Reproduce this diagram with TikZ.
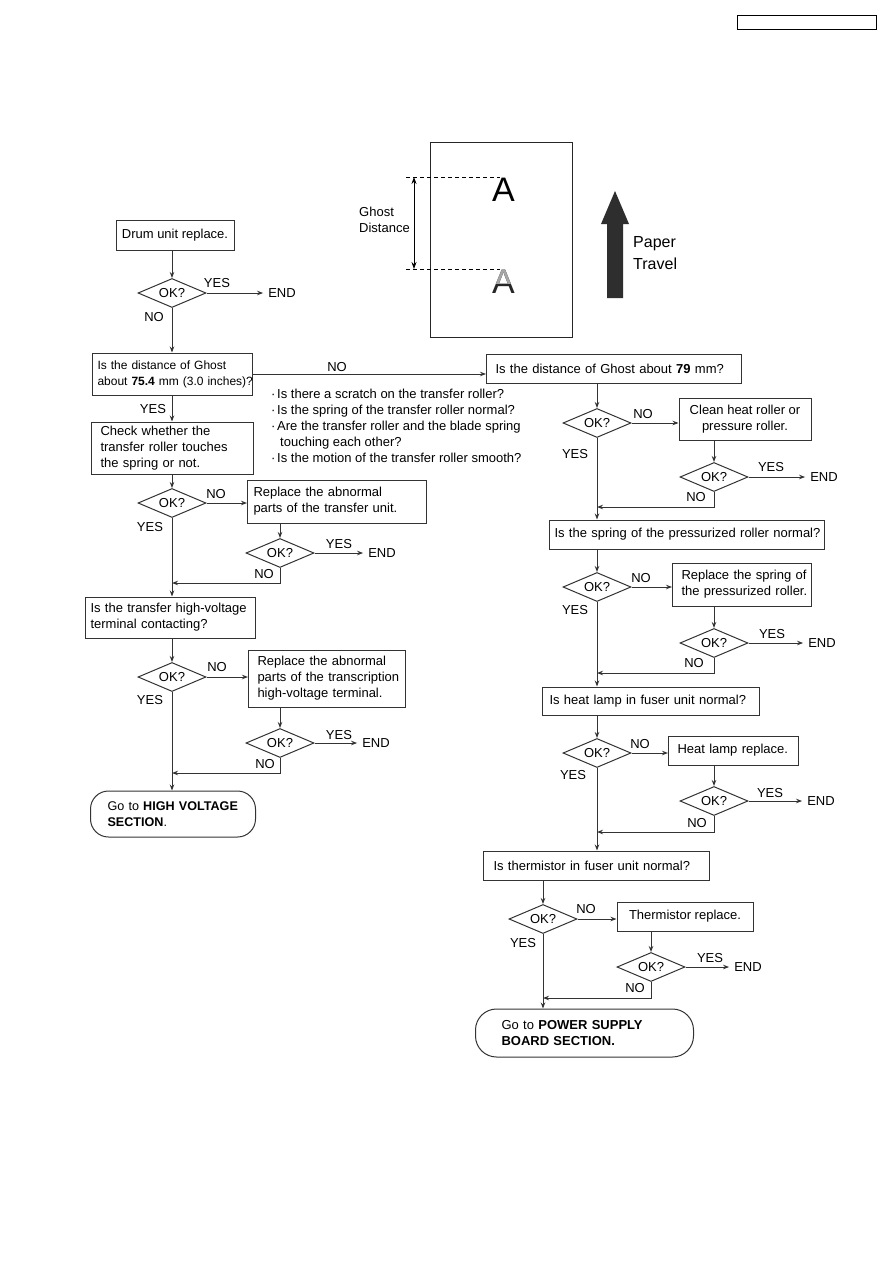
\documentclass[tikz,border=0pt]{standalone}
\usepackage{fontspec}
\setmainfont{Liberation Sans}
\usetikzlibrary{shapes.geometric,arrows.meta}
\newcommand{\fs}{\fontsize{13}{16}\selectfont}
\newcommand{\rl}[1]{\mbox{#1}}
\begin{document}
\begin{tikzpicture}[x=1pt,y=-1pt,
  every node/.style={font=\fs},
  box/.style={draw=black!80, line width=1pt, rectangle, inner ysep=2pt, align=left, anchor=west},
  cbox/.style={draw=black!80, line width=1pt, rectangle, inner xsep=5pt, inner ysep=2pt, align=center},
  dia/.style={draw=black!80, line width=1pt, diamond, aspect=2.35, minimum width=68pt, minimum height=29pt, inner sep=0pt},
  term/.style={draw=black!80, line width=1pt, rectangle, align=left, anchor=west},
  lab/.style={inner sep=0pt},
  endn/.style={inner xsep=5pt, inner ysep=0pt},
  arr/.style={draw=black!80, line width=1pt, -{Stealth[length=6pt,width=4.5pt]}}]
\useasboundingbox (0,0) rectangle (893,1263);
\fill[white] (0,0) rectangle (893,1263);

% top right empty box
\node[draw, line width=1pt, minimum width=139pt, minimum height=14pt, inner sep=0pt] (hdr) at (806.5,23) {};

% ---------- ghost figure ----------
\node[draw=black!85, line width=1pt, minimum width=142pt, minimum height=195pt, inner sep=0pt] (paper) at (501,239.5) {};
\coordinate (gt1) at (406,177); \coordinate (gt2) at (500,177);
\coordinate (gb1) at (406,269); \coordinate (gb2) at (500,269);
\coordinate (da1) at (414,177); \coordinate (da2) at (414,269);
\draw[dash pattern=on 4pt off 3pt, line width=0.9pt] (gt1) -- (gt2);
\draw[dash pattern=on 4pt off 3pt, line width=0.9pt] (gb1) -- (gb2);
\draw[line width=0.9pt, {Stealth[length=7pt,width=5pt]}-{Stealth[length=7pt,width=5pt]}] (da1) -- (da2);
\node[lab, anchor=west, align=left] (gdist) at (359,220) {Ghost\\Distance};
\node[lab, font=\fontsize{34}{34}\selectfont] (A1) at (503.5,190) {A};
\node[lab, font=\fontsize{34}{34}\selectfont, text=black!85] (A2) at (503.5,282) {A};
\begin{scope}
  \clip (485,262) rectangle (525,283);
  \node[lab, font=\fontsize{34}{34}\selectfont, text=black!35] (A2g) at (503.5,282) {A};
\end{scope}
\fill[black!82] (615,191) -- (629,224) -- (623,224) -- (623,298) -- (607,298) -- (607,224) -- (601,224) -- cycle;
\node[lab, anchor=west, align=left, font=\fontsize{16}{22}\selectfont] (travel) at (633,253) {Paper\\Travel};

% ---------- left column ----------
\node[cbox, minimum width=118pt, minimum height=30pt] (drum) at (175,235) {Drum unit replace.};
\node[dia] (L1) at (172,293) {OK?};
\node[endn] (E1) at (282,293) {END};
\node[lab] (y1) at (217,283) {YES};
\node[lab] (n1) at (154,317) {NO};

\node[box, minimum width=160pt, minimum height=42pt, inner xsep=5pt, text width=150pt, font=\fontsize{12}{16}\selectfont] (g75) at (92,374) {\rl{Is the distance of Ghost}\\\rl{about \textbf{75.4} mm (3.0 inches)?}};
\node[lab] (n0) at (337,367) {NO};
\node[lab] (y0) at (153,409) {YES};

\node[lab, anchor=north west, align=left] (bul) at (271,389) {%
\makebox[6pt][l]{·}Is there a scratch on the transfer roller?\\
\makebox[6pt][l]{·}Is the spring of the transfer roller normal?\\
\makebox[6pt][l]{·}Are the transfer roller and the blade spring\\
\makebox[9pt][l]{}touching each other?\\
\makebox[6pt][l]{·}Is the motion of the transfer roller smooth?};

\node[box, minimum width=162pt, minimum height=52pt, inner xsep=9pt, text width=144pt] (check) at (91,448) {\rl{Check whether the}\\\rl{transfer roller touches}\\\rl{the spring or not.}};
\node[dia] (L2) at (172,503) {OK?};
\node[lab] (n2) at (216,494) {NO};
\node[lab] (y2) at (150,527) {YES};
\node[box, minimum width=179pt, minimum height=43pt, inner xsep=6pt, text width=167pt] (rep1) at (247,501.5) {\rl{Replace the abnormal}\\\rl{parts of the transfer unit.}};
\node[dia] (L2b) at (280,553) {OK?};
\node[lab] (y2b) at (339,544) {YES};
\node[endn] (E2) at (382,553) {END};
\node[lab] (n2b) at (264,574) {NO};
\coordinate (J2) at (172,583);

\node[box, minimum width=170pt, minimum height=41pt, inner xsep=5pt, text width=160pt] (hv) at (85,617.5) {\rl{Is the transfer high-voltage}\\\rl{terminal contacting?}};
\node[dia] (L3) at (172,677) {OK?};
\node[lab] (n3) at (217,667) {NO};
\node[lab] (y3) at (150,700) {YES};
\node[box, minimum width=157pt, minimum height=57pt, inner xsep=9pt, text width=139pt] (rep2) at (248,678.5) {\rl{Replace the abnormal}\\\rl{parts of the transcription}\\\rl{high-voltage terminal.}};
\node[dia] (L3b) at (280,743) {OK?};
\node[lab] (y3b) at (339,735) {YES};
\node[endn] (E3) at (376,743) {END};
\node[lab] (n3b) at (265,764) {NO};
\coordinate (J3) at (172,773);

\node[term, rounded corners=18pt, minimum width=165pt, minimum height=46pt, inner xsep=17pt, text width=131pt, font=\fontsize{12.6}{16}\selectfont] (hvterm) at (90,814) {\rl{Go to \textbf{HIGH VOLTAGE}}\\\rl{\textbf{SECTION}.}};

% ---------- right column ----------
\node[box, minimum width=255pt, minimum height=29pt, inner xsep=9pt, text width=237pt] (g79) at (486,368.5) {\rl{Is the distance of Ghost about \textbf{79} mm?}};
\node[dia] (R1) at (597,423) {OK?};
\node[lab] (nr1) at (643,414) {NO};
\node[lab] (yr1) at (575,454) {YES};
\node[cbox, minimum width=132pt, minimum height=42pt] (clean) at (745,419) {Clean heat roller or\\pressure roller.};
\node[dia] (R1b) at (714,477) {OK?};
\node[lab] (yr1b) at (771,467) {YES};
\node[endn] (ER1) at (824,477) {END};
\node[lab] (nr1b) at (696,497) {NO};
\coordinate (JR1) at (597,507);

\node[box, minimum width=275pt, minimum height=29pt, inner xsep=5pt, text width=265pt] (spring) at (549,534.5) {\rl{Is the spring of the pressurized roller normal?}};
\node[dia] (R2) at (597,587) {OK?};
\node[lab] (nr2) at (641,578) {NO};
\node[lab] (yr2) at (575,610) {YES};
\node[box, minimum width=139pt, minimum height=43pt, inner xsep=9pt, text width=121pt] (rep3) at (672,584.5) {\rl{Replace the spring of}\\\rl{the pressurized roller.}};
\node[dia] (R2b) at (714,643) {OK?};
\node[lab] (yr2b) at (772,634) {YES};
\node[endn] (ER2) at (822,643) {END};
\node[lab] (nr2b) at (694,663) {NO};
\coordinate (JR2) at (597,673);

\node[box, minimum width=217pt, minimum height=28pt, inner xsep=7pt, text width=203pt] (heat) at (542,701) {\rl{Is heat lamp in fuser unit normal?}};
\node[dia] (R3) at (597,753) {OK?};
\node[lab] (nr3) at (640,744) {NO};
\node[lab] (yr3) at (573,775) {YES};
\node[box, minimum width=130pt, minimum height=29pt, inner xsep=9pt, text width=112pt] (heatrep) at (668,750.5) {\rl{Heat lamp replace.}};
\node[dia] (R3b) at (714,801) {OK?};
\node[lab] (yr3b) at (770,793) {YES};
\node[endn] (ER3) at (821,801) {END};
\node[lab] (nr3b) at (697,823) {NO};
\coordinate (JR3) at (597,832);

\node[box, minimum width=226pt, minimum height=29pt, inner xsep=10pt, text width=206pt] (therm) at (483,865.5) {\rl{Is thermistor in fuser unit normal?}};
\node[dia] (R4) at (543,919) {OK?};
\node[lab] (nr4) at (586,909) {NO};
\node[lab] (yr4) at (523,943) {YES};
\node[cbox, minimum width=136pt, minimum height=29pt] (thermrep) at (685,916.5) {Thermistor replace.};
\node[dia] (R4b) at (651,967) {OK?};
\node[lab] (yr4b) at (710,958) {YES};
\node[endn] (ER4) at (748,967) {END};
\node[lab] (nr4b) at (635,988) {NO};
\coordinate (JR4) at (543,998);

\node[term, rounded corners=21pt, minimum width=218pt, minimum height=48pt, inner xsep=26pt, text width=166pt] (psterm) at (475,1033) {\rl{Go to \textbf{POWER SUPPLY}}\\\rl{\textbf{BOARD SECTION.}}};

% ---------- connectors left ----------
\draw[arr] (drum.south -| L1) -- (L1.north);
\draw[arr] (L1.east) -- (L1.east -| E1.west);
\draw[arr] (L1.south) -- (g75.north -| L1);
\draw[arr] (g75.east) -- (g75.east -| g79.west);
\draw[arr] (g75.south -| L1) -- (check.north -| L1);
\draw[arr] (check.south -| L2) -- (L2.north);
\draw[arr] (L2.east) -- (L2.east -| rep1.west);
\draw[arr] (rep1.south -| L2b) -- (L2b.north);
\draw[arr] (L2b.east) -- (L2b.east -| E2.west);
\draw[arr] (L2b.south) |- (J2);
\draw[arr] (L2.south) -- (hv.north -| L2);
\draw[arr] (hv.south -| L3) -- (L3.north);
\draw[arr] (L3.east) -- (L3.east -| rep2.west);
\draw[arr] (rep2.south -| L3b) -- (L3b.north);
\draw[arr] (L3b.east) -- (L3b.east -| E3.west);
\draw[arr] (L3b.south) |- (J3);
\draw[arr] (L3.south) -- (hvterm.north -| L3);

% ---------- connectors right ----------
\draw[arr] (g79.south -| R1) -- (R1.north);
\draw[arr] (R1.east) -- (R1.east -| clean.west);
\draw[arr] (clean.south -| R1b) -- (R1b.north);
\draw[arr] (R1b.east) -- (R1b.east -| ER1.west);
\draw[arr] (R1b.south) |- (JR1);
\draw[arr] (R1.south) -- (spring.north -| R1);
\draw[arr] (spring.south -| R2) -- (R2.north);
\draw[arr] (R2.east) -- (R2.east -| rep3.west);
\draw[arr] (rep3.south -| R2b) -- (R2b.north);
\draw[arr] (R2b.east) -- (R2b.east -| ER2.west);
\draw[arr] (R2b.south) |- (JR2);
\draw[arr] (R2.south) -- (heat.north -| R2);
\draw[arr] (heat.south -| R3) -- (R3.north);
\draw[arr] (R3.east) -- (R3.east -| heatrep.west);
\draw[arr] (heatrep.south -| R3b) -- (R3b.north);
\draw[arr] (R3b.east) -- (R3b.east -| ER3.west);
\draw[arr] (R3b.south) |- (JR3);
\draw[arr] (R3.south) -- (therm.north -| R3);
\draw[arr] (therm.south -| R4) -- (R4.north);
\draw[arr] (R4.east) -- (R4.east -| thermrep.west);
\draw[arr] (thermrep.south -| R4b) -- (R4b.north);
\draw[arr] (R4b.east) -- (R4b.east -| ER4.west);
\draw[arr] (R4b.south) |- (JR4);
\draw[arr] (R4.south) -- (psterm.north -| R4);
\end{tikzpicture}
\end{document}
